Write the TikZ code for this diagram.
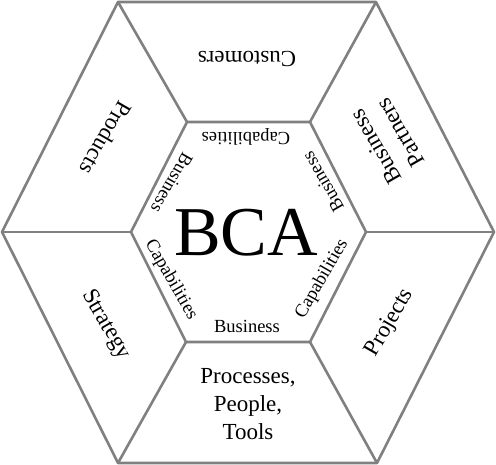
\documentclass[tikz,border=0pt]{standalone}
\usepackage{fontspec}
\setmainfont{Liberation Serif}
\definecolor{edgegray}{RGB}{128,128,128}
\begin{document}
\begin{tikzpicture}[x=1pt,y=1pt,
  edge/.style={draw=edgegray, line width=2.6pt, line join=round},
  outerlbl/.style={font=\fontsize{23}{28}\selectfont, align=center, inner sep=0pt},
  innerlbl/.style={font=\fontsize{18.5}{22}\selectfont, inner sep=0pt},
  biglbl/.style={font=\fontsize{70}{80}\selectfont, inner sep=0pt}]
\useasboundingbox (0,0) rectangle (496,465);
% outer hexagon
\coordinate (L)  at (2,233);
\coordinate (TL) at (118,463);
\coordinate (TR) at (376,463);
\coordinate (R)  at (494,233);
\coordinate (BR) at (377,2);
\coordinate (BL) at (118,2);
% inner hexagon
\coordinate (IL)  at (131,233);
\coordinate (ITL) at (187,343);
\coordinate (ITR) at (310,343);
\coordinate (IR)  at (366,233);
\coordinate (IBR) at (310,123);
\coordinate (IBL) at (186,123);
\draw[edge] (L)--(TL)--(TR)--(R)--(BR)--(BL)--cycle;
\draw[edge] (IL)--(ITL)--(ITR)--(IR)--(IBR)--(IBL)--cycle;
\draw[edge] (L)--(IL);
\draw[edge] (TL)--(ITL);
\draw[edge] (TR)--(ITR);
\draw[edge] (R)--(IR);
\draw[edge] (BR)--(IBR);
\draw[edge] (BL)--(IBL);
% outer labels
\node[outerlbl, rotate=180] (cust) at (247,406) {Customers};
\node[outerlbl, rotate=-120] (prod) at (106,327) {Products};
\node[outerlbl, rotate=120] (part) at (388,325) {Business\\Partners};
\node[outerlbl, rotate=-60] (strat) at (106,140) {Strategy};
\node[outerlbl, rotate=60] (proj) at (390,142) {Projects};
\node[outerlbl] (ppt) at (248,61) {Processes,\\People,\\Tools};
% center
\node[biglbl] (bca) at (246,232) {BCA};
% inner labels
\node[innerlbl, rotate=180] (cap1) at (246,328) {Capabilities};
\node[innerlbl, rotate=-120] (bus1) at (172,282) {Business};
\node[innerlbl, rotate=120] (bus2) at (323,283) {Business};
\node[innerlbl, rotate=-60] (cap2) at (171,185) {Capabilities};
\node[innerlbl, rotate=60] (cap3) at (322,186) {Capabilities};
\node[innerlbl] (bus3) at (247,139) {Business};
\end{tikzpicture}
\end{document}
